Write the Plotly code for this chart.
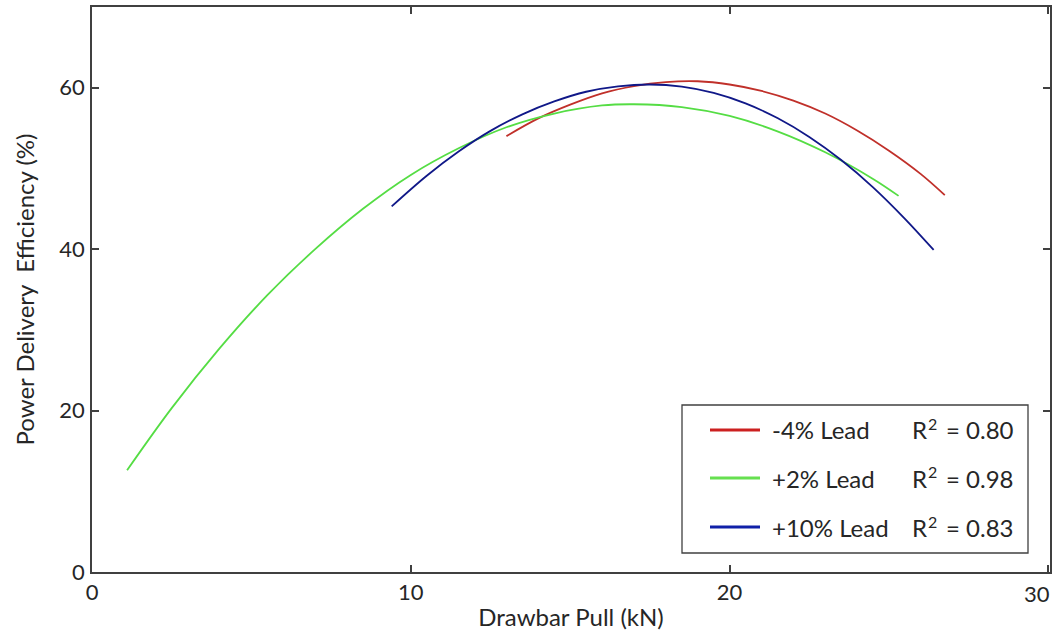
import plotly.graph_objects as go

# ---------------- data ----------------
series_names = ["-4% Lead", "+2% Lead", "+10% Lead"]
r2_values = ["0.80", "0.98", "0.83"]

lead_m4_x = [13.0, 14.0, 15.0, 16.0, 17.0, 18.0, 19.0, 20.0, 21.0, 22.0, 23.0, 24.0, 25.0, 26.0, 26.75]
lead_m4_y = [54.0, 56.2, 57.9, 59.3, 60.2, 60.7, 60.8, 60.4, 59.6, 58.4, 56.8, 54.7, 52.2, 49.3, 46.7]

lead_p2_x = [1.1, 2.5, 4.0, 5.5, 7.0, 8.5, 10.0, 11.5, 13.0, 14.5, 16.0, 17.0, 18.5, 20.0, 21.5, 23.0, 24.5, 25.3]
lead_p2_y = [12.6, 20.3, 27.7, 34.3, 40.0, 45.0, 49.2, 52.5, 55.1, 56.8, 57.8, 57.95, 57.6, 56.5, 54.6, 52.0, 48.7, 46.6]

lead_p10_x = [9.4, 10.5, 11.5, 12.5, 13.5, 14.5, 15.5, 16.5, 17.5, 18.5, 19.5, 20.5, 21.5, 22.5, 23.5, 24.5, 25.5, 26.4]
lead_p10_y = [45.3, 49.1, 52.1, 54.65, 56.7, 58.3, 59.5, 60.17, 60.4, 60.14, 59.36, 58.06, 56.24, 53.9, 51.04, 47.66, 43.76, 39.9]

x_ticks = [0, 10, 20, 30]
x_tick_text = ["0", "10", "20", "30"]
y_ticks = [0, 20, 40, 60]

colors = ["#c0302a", "#55dd44", "#101888"]
legend_colors = ["#cc2020", "#66e050", "#1020a8"]

# ---------------- figure ----------------
W, H = 1060, 634
ML, MR, MT, MB = 92, 10, 7, 62
PW, PH = W - ML - MR, H - MT - MB

def px2x(px):
    return (px - ML) / PW

def py2y(py):
    return (H - MB - py) / PH

fig = go.Figure()
for xs, ys, c, n in zip([lead_m4_x, lead_p2_x, lead_p10_x],
                        [lead_m4_y, lead_p2_y, lead_p10_y],
                        colors, series_names):
    fig.add_trace(go.Scatter(x=xs, y=ys, mode="lines", name=n,
                             line=dict(color=c, width=1.8, shape="spline", smoothing=1.0),
                             showlegend=False, hoverinfo="skip"))

FONT = "Lato, 'Open Sans', sans-serif"
TXT = "#262626"
AX = "#404040"

axis_common = dict(showgrid=False, zeroline=False, showline=True, linecolor=AX,
                   linewidth=1.5, mirror="ticks", ticks="inside", ticklen=7,
                   tickcolor=AX, tickwidth=1.5,
                   tickfont=dict(family=FONT, size=22, color=TXT))

# last x label is drawn as an annotation (shifted left like in the reference)
shown_x_text = x_tick_text[:-1] + [""]

fig.update_layout(
    width=W, height=H,
    margin=dict(l=ML, r=MR, t=MT, b=MB, autoexpand=False),
    paper_bgcolor="white", plot_bgcolor="white",
    font=dict(family=FONT, color=TXT),
    xaxis=dict(range=[0, 30.05], tickvals=x_ticks, ticktext=shown_x_text,
               ticklabelstandoff=0,
               title=dict(text="Drawbar Pull (kN)", font=dict(family=FONT, size=24, color=TXT),
                          standoff=5),
               automargin=False, **axis_common),
    yaxis=dict(range=[0, 70], tickvals=y_ticks, ticklabelstandoff=1,
               title=dict(text="Power Delivery\u00a0 Efficiency (%)",
                          font=dict(family=FONT, size=24, color=TXT), standoff=18),
               automargin=False, **axis_common),
)

# ---------------- legend (drawn box) ----------------
shapes = [dict(type="rect", xref="paper", yref="paper",
               x0=px2x(682), x1=px2x(1028), y0=py2y(553), y1=py2y(405),
               line=dict(color=AX, width=1.3), fillcolor="white", layer="above")]
annotations = [dict(xref="paper", yref="paper", x=px2x(1037), y=py2y(593),
                    text=x_tick_text[-1], showarrow=False, xanchor="center", yanchor="middle",
                    font=dict(family=FONT, size=22, color=TXT))]

def add_text(px, py, text, size):
    annotations.append(dict(xref="paper", yref="paper", x=px2x(px), y=py2y(py),
                            text=text, showarrow=False, xanchor="left", yanchor="middle",
                            font=dict(family=FONT, size=size, color=TXT)))

row_py = [430, 478, 527]
for n, r2, c, ry in zip(series_names, r2_values, legend_colors, row_py):
    shapes.append(dict(type="line", xref="paper", yref="paper",
                       x0=px2x(710), x1=px2x(760), y0=py2y(ry), y1=py2y(ry),
                       line=dict(color=c, width=3), layer="above"))
    add_text(770, ry, n, 24)
    add_text(910, ry, "R", 24)
    add_text(926, ry - 6, "2", 16)
    add_text(944, ry, "= " + r2, 24)

fig.update_layout(shapes=shapes, annotations=annotations)

fig.write_html("out.html")
